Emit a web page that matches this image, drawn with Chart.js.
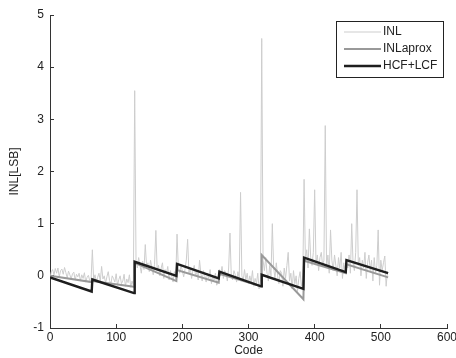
<!DOCTYPE html>
<html>
<head>
<meta charset="utf-8">
<script src="https://cdn.jsdelivr.net/npm/chart.js@4/dist/chart.umd.min.js"></script>
<style>
  html, body { margin: 0; padding: 0; background: #fff; }
  #wrap { width: 456px; height: 358px; }
</style>
</head>
<body>
<div id="wrap"><canvas id="inlChart" width="456" height="358"></canvas></div>
<script>
// INL measured every 2 codes (0, 2, 4 ... 510)
const inlValues = [
  -0.05, 0.08, 0.12, 0.02, 0.14, 0.05, 0.15, -0.02, 0.1, 0.13, 0.03, 0.16, 0.06, -0.04, 0.09, 0.02,
  -0.06, 0.04, 0.07, -0.08, 0.03, -0.02, 0.05, -0.1, 0.02, -0.05, 0.06, -0.12, -0.03, 0.01, -0.09, -0.1,
  0.5, -0.08, 0.02, -0.12, -0.03, 0.05, -0.1, 0.18, -0.06, 0.0, -0.14, -0.02, 0.08, -0.09, -0.16, 0.0,
  -0.05, -0.12, 0.04, -0.18, -0.07, 0.0, -0.15, -0.1, 0.03, -0.2, -0.06, -0.13, 0.02, -0.22, -0.1, -0.18,
  3.55, 0.3, 0.15, 0.35, 0.2, 0.05, 0.28, 0.12, 0.6, 0.18, 0.25, 0.08, 0.3, 0.15, 0.02, 0.22,
  0.87, 0.1, 0.2, 0.0, 0.15, 0.25, -0.05, 0.12, 0.05, 0.18, -0.08, 0.1, 0.0, -0.12, 0.08, -0.05,
  0.8, 0.15, 0.05, 0.2, 0.1, -0.02, 0.12, 0.3, 0.7, 0.05, 0.15, -0.05, 0.1, 0.2, 0.0, 0.08,
  -0.08, 0.3, 0.05, -0.1, 0.1, 0.0, -0.12, 0.05, -0.05, 0.12, -0.15, 0.0, -0.08, 0.05, -0.18, -0.1,
  0.12, 0.0, 0.18, -0.05, 0.1, 0.05, -0.1, 0.15, 0.82, 0.0, -0.08, 0.1, 0.02, -0.12, 0.08, -0.05,
  1.6, 0.0, -0.1, 0.12, -0.08, 0.05, -0.15, 0.0, -0.12, 0.1, -0.2, -0.05, -0.15, 0.05, -0.25, -0.1,
  4.55, 0.3, 0.1, 0.35, 0.05, -0.1, 0.2, 0.0, 1.0, 0.15, -0.05, 0.25, 0.0, -0.15, 0.1, 0.05,
  -0.2, 0.15, -0.05, 0.2, 0.45, -0.1, 0.05, -0.25, 0.1, -0.15, 0.0, -0.3, -0.05, 0.08, -0.2, -0.1,
  1.85, 0.3, 0.5, 0.15, 0.9, 0.35, 0.2, 0.45, 1.65, 0.25, 0.4, 0.1, 0.35, 0.45, 0.2, 0.3,
  2.88, 0.15, 0.4, 0.05, 0.88, 0.3, 0.1, 0.4, 0.2, 0.0, 0.35, 0.15, 0.45, -0.05, 0.25, 0.1,
  0.3, 0.15, 0.4, 0.05, 1.0, 0.25, 0.1, 0.45, 1.65, 0.2, 0.35, 0.0, 0.3, 0.15, 0.45, -0.05,
  0.25, 0.4, 0.1, 0.3, -0.1, 0.35, 0.05, 0.2, 0.88, -0.18, 0.3, 0.1, 0.25, 0.38, -0.2, 0.08
];
const inlStep = 2;

// segment end points of the two fits
const fitCodes = [0, 63, 64, 127, 128, 191, 192, 255, 256, 319, 320, 383, 384, 447, 448, 511];
const aproxValues = [0.0, -0.12, -0.1, -0.21, 0.25, -0.1, 0.11, -0.13, 0.04, -0.2, 0.4, -0.45, 0.29, 0.05, 0.22, -0.03];
const hcfLcfValues = [-0.03, -0.3, -0.07, -0.33, 0.27, 0.0, 0.23, -0.05, 0.08, -0.2, 0.02, -0.25, 0.35, 0.07, 0.3, 0.05];

const xTicks = [0, 100, 200, 300, 400, 500, 600];
const yTicks = [-1, 0, 1, 2, 3, 4, 5];

const seriesNames = ['INL', 'INLaprox', 'HCF+LCF'];
const seriesColors = ['#cdcdcd', '#999999', '#1e1e1e'];
const seriesWidths = [1, 2, 2.4];

const font = 'Arial, "Liberation Sans", sans-serif';

const boxLegend = {
    id: 'boxLegend',
    afterDraw(chart) {
        const ctx = chart.ctx;
        const x = 336, y = 21, w = 107, h = 56;
        ctx.save();
        ctx.fillStyle = '#fff';
        ctx.fillRect(x, y, w, h);
        ctx.strokeStyle = '#222';
        ctx.lineWidth = 1;
        ctx.strokeRect(x + 0.5, y + 0.5, w, h);
        ctx.font = '12px ' + font;
        ctx.textBaseline = 'middle';
        ctx.fillStyle = '#222';
        seriesNames.forEach((name, i) => {
            const ly = y + 11 + i * 17;
            ctx.strokeStyle = seriesColors[i];
            ctx.lineWidth = seriesWidths[i];
            ctx.beginPath();
            ctx.moveTo(x + 8, ly);
            ctx.lineTo(x + 45, ly);
            ctx.stroke();
            ctx.fillText(name, x + 47, ly);
        });
        ctx.restore();
    }
};

const ctx = document.getElementById('inlChart').getContext('2d');
new Chart(ctx, {
    type: 'line',
    data: {
        datasets: [
            {
                label: seriesNames[0],
                data: inlValues.map((v, i) => ({ x: i * inlStep, y: v })),
                borderColor: seriesColors[0],
                borderWidth: seriesWidths[0],
                pointRadius: 0,
                order: 3
            },
            {
                label: seriesNames[1],
                data: fitCodes.map((c, i) => ({ x: c, y: aproxValues[i] })),
                borderColor: seriesColors[1],
                borderWidth: seriesWidths[1],
                pointRadius: 0,
                order: 2
            },
            {
                label: seriesNames[2],
                data: fitCodes.map((c, i) => ({ x: c, y: hcfLcfValues[i] })),
                borderColor: seriesColors[2],
                borderWidth: seriesWidths[2],
                pointRadius: 0,
                order: 1
            }
        ]
    },
    options: {
        responsive: false,
        animation: false,
        layout: { padding: { top: 15, right: 9, left: 0, bottom: 0 } },
        plugins: {
            legend: { display: false },
            tooltip: { enabled: false }
        },
        scales: {
            x: {
                type: 'linear',
                min: 0,
                max: 600,
                afterBuildTicks: (scale) => { scale.ticks = xTicks.map(v => ({ value: v })); },
                afterFit: (scale) => { scale.height = 30; scale.paddingLeft = 0; scale.paddingRight = 0; },
                grid: { drawOnChartArea: false, drawTicks: true, tickLength: -4, color: '#333' },
                border: { color: '#333', width: 1 },
                ticks: { color: '#222', font: { family: font, size: 12 }, padding: 6, maxRotation: 0 },
                title: { display: true, text: 'Code', color: '#222', font: { family: font, size: 12 }, padding: { top: 0, bottom: 0 } }
            },
            y: {
                min: -1,
                max: 5,
                afterBuildTicks: (scale) => { scale.ticks = yTicks.map(v => ({ value: v })); },
                afterFit: (scale) => { scale.width = 50; scale.paddingTop = 0; scale.paddingBottom = 0; },
                grid: { drawOnChartArea: false, drawTicks: true, tickLength: -4, color: '#333' },
                border: { color: '#333', width: 1 },
                ticks: { color: '#222', font: { family: font, size: 12 }, padding: 10 },
                title: { display: true, text: 'INL[LSB]', color: '#222', font: { family: font, size: 12 }, padding: { top: 7, bottom: 0 } }
            }
        }
    },
    plugins: [boxLegend]
});
</script>
</body>
</html>
